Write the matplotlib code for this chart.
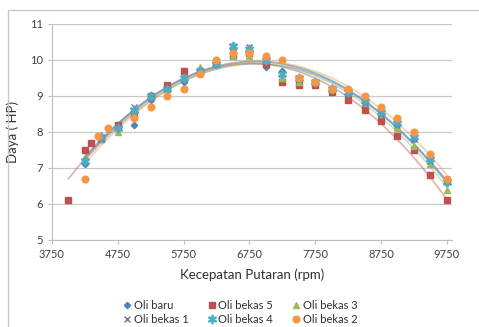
import numpy as np
import matplotlib
matplotlib.use("Agg")
import matplotlib.pyplot as plt
from matplotlib.patches import Rectangle

plt.rcParams['font.family'] = ['Lato', 'DejaVu Sans']

# data
rpm = [4250, 4500, 4750, 5000, 5250, 5500, 5750, 6000, 6250, 6500, 6750, 7000,
       7250, 7500, 7750, 8000, 8250, 8500, 8750, 9000, 9250, 9500, 9750]
oli_baru = [7.1, 7.9, 8.1, 8.2, 8.9, 9.2, 9.4, 9.7, 9.95, 10.3, 10.2, 9.8,
            9.7, 9.4, 9.35, 9.2, 9.0, 8.9, 8.5, 8.2, 7.8, 7.3, 6.6]
rpm_bekas5 = [4000, 4250, 4350, 4500, 4750, 5000, 5250, 5500, 5750, 6000, 6250, 6500,
              6750, 7000, 7250, 7500, 7750, 8000, 8250, 8500, 8750, 9000, 9250, 9500, 9750]
oli_bekas5 = [6.1, 7.5, 7.7, 7.8, 8.2, 8.5, 9.0, 9.3, 9.7, 9.7, 9.9, 10.1,
              10.2, 9.9, 9.4, 9.3, 9.3, 9.1, 8.9, 8.6, 8.3, 7.9, 7.5, 6.8, 6.1]
oli_bekas3 = [7.3, 7.8, 8.0, 8.5, 9.0, 9.2, 9.5, 9.8, 9.9, 10.1, 10.1, 10.0,
              9.5, 9.4, 9.4, 9.2, 9.1, 8.8, 8.5, 8.1, 7.6, 7.1, 6.4]
oli_bekas1 = [7.2, 7.8, 8.1, 8.7, 9.0, 9.2, 9.5, 9.7, 9.9, 10.4, 10.35, 10.0,
              9.6, 9.5, 9.4, 9.2, 9.1, 8.8, 8.5, 8.2, 7.8, 7.2, 6.6]
oli_bekas4 = [7.2, 7.85, 8.1, 8.6, 9.0, 9.2, 9.5, 9.7, 9.9, 10.4, 10.3, 10.0,
              9.6, 9.5, 9.4, 9.2, 9.1, 8.85, 8.55, 8.25, 7.85, 7.25, 6.6]
rpm_bekas2 = [4250, 4450, 4600, 5000, 5250, 5500, 5750, 6000, 6250, 6500, 6750, 7000,
              7250, 7500, 7750, 8000, 8250, 8500, 8750, 9000, 9250, 9500, 9750]
oli_bekas2 = [6.7, 7.9, 8.1, 8.4, 8.7, 9.0, 9.2, 9.6, 10.0, 10.2, 10.2, 10.1,
              10.0, 9.5, 9.4, 9.2, 9.2, 9.0, 8.7, 8.4, 8.0, 7.4, 6.7]

x_ticks = [3750, 4750, 5750, 6750, 7750, 8750, 9750]
y_ticks = [5, 6, 7, 8, 9, 10, 11]

fig = plt.figure(figsize=(4.79, 3.27), dpi=100)
ax = fig.add_axes([52 / 479, 1 - 240 / 327, 400 / 479, 216 / 327])

# rahmen um das ganze diagramm
fig.patches.append(Rectangle((8 / 479, -0.1), 1.2, 1 - 10 / 327 + 0.1,
                             transform=fig.transFigure, fill=False,
                             edgecolor='#C8C8C8', linewidth=1))

series = [
    ("Oli baru", rpm, oli_baru, '#4F81BD', 'D', 3.2),
    ("Oli bekas 5", rpm_bekas5, oli_bekas5, '#C0504D', 's', 4.5),
    ("Oli bekas 3", rpm, oli_bekas3, '#9BBB59', '^', 4.5),
    ("Oli bekas 1", rpm, oli_bekas1, '#8064A2', 'x', 5),
    ("Oli bekas 4", rpm, oli_bekas4, '#4BACC6', '$\u2217$', 6),
    ("Oli bekas 2", rpm_bekas2, oli_bekas2, '#F79646', 'o', 4.8),
]

handles = {}
for name, xs, ys, col, mk, ms in series:
    # trendlinie (polynom 2. ordnung)
    p = np.polyfit(xs, ys, 2)
    xx = np.linspace(min(xs), max(xs), 200)
    ax.plot(xx, np.polyval(p, xx), color=col, alpha=0.45, linewidth=1.2, zorder=2)
for name, xs, ys, col, mk, ms in series:
    h, = ax.plot(xs, ys, linestyle='none', marker=mk, color=col, markersize=ms,
                 markeredgewidth=1.0, zorder=3)
    handles[name] = h

ax.set_xlim(3750, 9750 + 80)
ax.set_ylim(5, 11)
ax.set_xticks(x_ticks)
ax.set_yticks(y_ticks)
ax.tick_params(axis='both', labelsize=8, colors='#404040', length=3, width=0.8)
ax.tick_params(axis='both', color='#BFBFBF')
ax.grid(axis='y', color='#C8C8C8', linewidth=0.9)
ax.set_axisbelow(True)
for s in ['top', 'right']:
    ax.spines[s].set_visible(False)
for s in ['left', 'bottom']:
    ax.spines[s].set_color('#BFBFBF')

ax.set_xlabel("Kecepatan Putaran (rpm)", fontsize=9.5, color='#303030', labelpad=6)
ax.set_ylabel("Daya ( HP)", fontsize=9.5, color='#303030', labelpad=8)

order = ["Oli baru", "Oli bekas 1", "Oli bekas 5", "Oli bekas 4", "Oli bekas 3", "Oli bekas 2"]
fig.legend([handles[n] for n in order], order, ncol=3, loc='upper center',
           bbox_to_anchor=(0.5, 1 - 293 / 327), frameon=False, fontsize=8,
           handletextpad=0.1, columnspacing=1.6, labelspacing=0.3, handlelength=1.0,
           labelcolor='#303030', borderaxespad=0.2)

fig.savefig("out.png", dpi=100)
